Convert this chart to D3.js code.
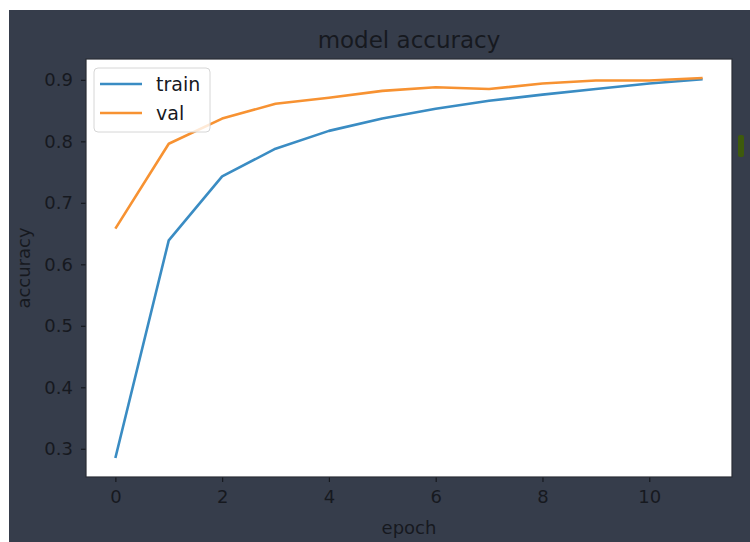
<!DOCTYPE html>
<html>
<head>
<meta charset="utf-8">
<script src="https://cdn.jsdelivr.net/npm/d3@7"></script>
<style>
  body { margin: 0; background: #ffffff; }
  text { font-family: "DejaVu Sans", sans-serif; fill: #16191f; }
</style>
</head>
<body>
<svg id="chart"></svg>
<script>
/*
Chart data
*/
var epochs = [0, 1, 2, 3, 4, 5, 6, 7, 8, 9, 10, 11];
var trainAcc = [0.285, 0.639, 0.743, 0.788, 0.817, 0.837, 0.853, 0.866, 0.876, 0.885, 0.894, 0.901];
var valAcc = [0.658, 0.796, 0.837, 0.861, 0.871, 0.882, 0.888, 0.885, 0.894, 0.899, 0.899, 0.903];
var xTicks = [0, 2, 4, 6, 8, 10];
var yTicks = [0.3, 0.4, 0.5, 0.6, 0.7, 0.8, 0.9];
var seriesNames = ["train", "val"];

/*
Layout constants
*/
var width = 750;
var height = 542;
var plot = { left: 86, right: 732, top: 59, bottom: 477 };
var colors = ["#3a8cc3", "#f79232"];
var bgColor = "#363d4b";

var svg = d3.select("#chart").attr("width", width).attr("height", height);

// dark frame behind the figure
svg.append("rect")
  .attr("x", 9).attr("y", 10)
  .attr("width", width - 9).attr("height", height - 10)
  .attr("fill", bgColor);

// little green marker on the right edge
svg.append("rect")
  .attr("x", 738).attr("y", 135)
  .attr("width", 6).attr("height", 22)
  .attr("rx", 2)
  .attr("fill", "#3e5a0c");

// plot area
svg.append("rect")
  .attr("x", plot.left).attr("y", plot.top)
  .attr("width", plot.right - plot.left).attr("height", plot.bottom - plot.top)
  .attr("fill", "#ffffff");

var xScale = d3.scaleLinear().domain([-0.55, 11.55]).range([plot.left, plot.right]);
var yScale = d3.scaleLinear().domain([0.2541, 0.9339]).range([plot.bottom, plot.top]);

// axes
var xAxis = d3.axisBottom(xScale).tickValues(xTicks).tickSize(5).tickPadding(8).tickFormat(d3.format("d"));
var gX = svg.append("g")
  .attr("transform", "translate(0," + plot.bottom + ")")
  .call(xAxis);

var yAxis = d3.axisLeft(yScale).tickValues(yTicks).tickSize(5).tickPadding(8).tickFormat(d3.format(".1f"));
var gY = svg.append("g")
  .attr("transform", "translate(" + plot.left + ",0)")
  .call(yAxis);

[gX, gY].forEach(function (g) {
  g.select(".domain").remove();
  g.selectAll(".tick line").attr("stroke", "#16191f").attr("stroke-width", 1.2);
  g.selectAll(".tick text")
    .attr("font-family", "DejaVu Sans")
    .attr("font-size", 18)
    .attr("fill", "#16191f");
});

// lines
var line = d3.line()
  .x(function (d) { return xScale(d[0]); })
  .y(function (d) { return yScale(d[1]); });

[trainAcc, valAcc].forEach(function (vals, i) {
  svg.append("path")
    .datum(epochs.map(function (e, j) { return [e, vals[j]]; }))
    .attr("fill", "none")
    .attr("stroke", colors[i])
    .attr("stroke-width", 2.6)
    .attr("stroke-linejoin", "round")
    .attr("d", line);
});

// spines
svg.append("rect")
  .attr("x", plot.left).attr("y", plot.top)
  .attr("width", plot.right - plot.left).attr("height", plot.bottom - plot.top)
  .attr("fill", "none")
  .attr("stroke", "#2a2e36")
  .attr("stroke-width", 1.2);

// legend
var legend = svg.append("g").attr("transform", "translate(94,68)");
legend.append("rect")
  .attr("width", 116).attr("height", 64)
  .attr("rx", 4)
  .attr("fill", "#ffffff")
  .attr("fill-opacity", 0.8)
  .attr("stroke", "#d6d6d6");

seriesNames.forEach(function (name, i) {
  var yy = 16 + i * 29;
  legend.append("line")
    .attr("x1", 6).attr("x2", 48)
    .attr("y1", yy).attr("y2", yy)
    .attr("stroke", colors[i])
    .attr("stroke-width", 2.6);
  legend.append("text")
    .attr("x", 62).attr("y", yy)
    .attr("dy", "0.35em")
    .attr("font-size", 19)
    .text(name);
});

// title and axis labels
svg.append("text")
  .attr("x", (plot.left + plot.right) / 2)
  .attr("y", 48)
  .attr("text-anchor", "middle")
  .attr("font-size", 23)
  .text("model accuracy");

svg.append("text")
  .attr("x", (plot.left + plot.right) / 2)
  .attr("y", 534)
  .attr("text-anchor", "middle")
  .attr("font-size", 18)
  .text("epoch");

svg.append("text")
  .attr("transform", "translate(30," + (plot.top + plot.bottom) / 2 + ") rotate(-90)")
  .attr("text-anchor", "middle")
  .attr("font-size", 18)
  .text("accuracy");
</script>
</body>
</html>
